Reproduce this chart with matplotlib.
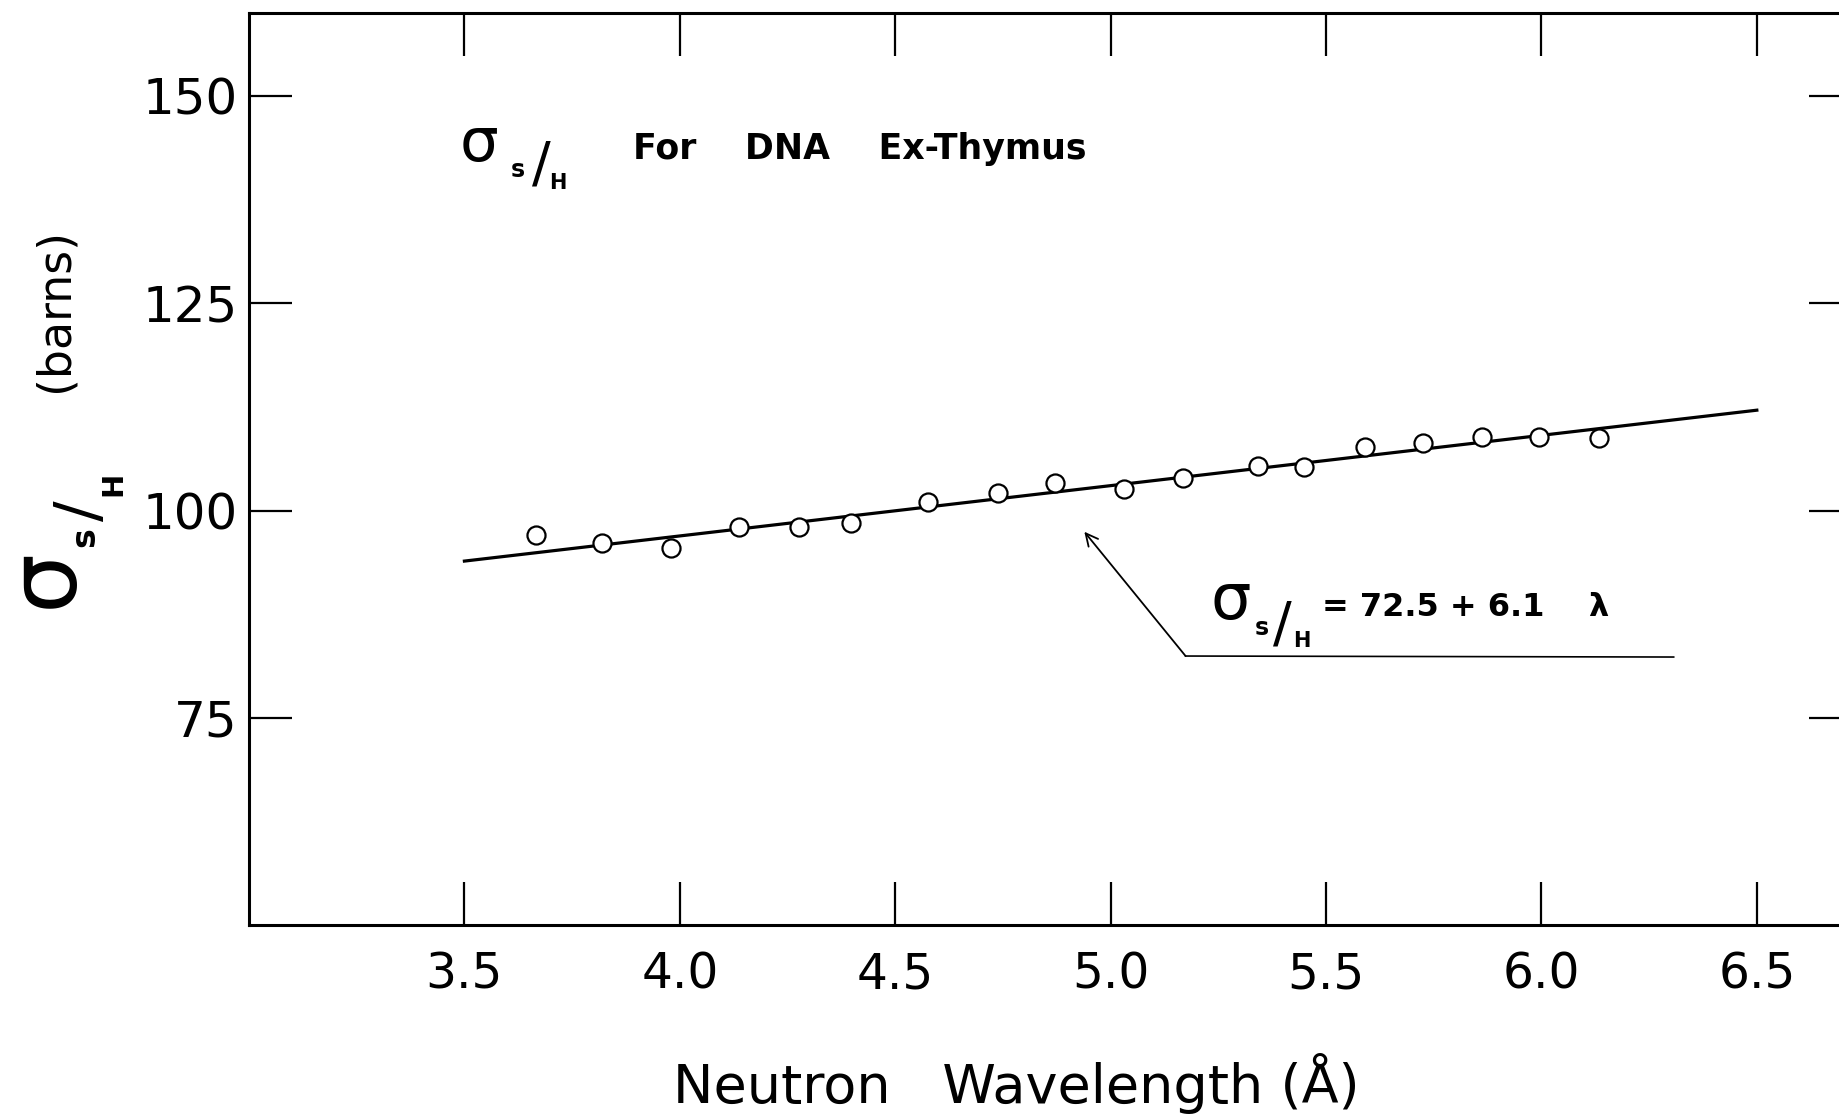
import matplotlib
matplotlib.use("Agg")
import matplotlib.pyplot as plt

# ---------------- data ----------------
wavelength = [3.666, 3.819, 3.979, 4.138, 4.277, 4.397, 4.577, 4.739, 4.870,
              5.031, 5.169, 5.341, 5.450, 5.591, 5.726, 5.863, 5.994, 6.134]
sigma_sh = [97.05, 96.12, 95.44, 97.97, 98.05, 98.46, 101.06, 102.07, 103.28,
            102.56, 103.88, 105.40, 105.28, 107.62, 108.10, 108.83, 108.90, 108.71]

fit_x = [3.5, 6.5]
fit_y = [93.9, 112.1]

pointer_tip = (4.939, 97.44)
pointer_kink = (5.174, 82.45)
pointer_end = (6.307, 82.33)

x_ticks = [3.5, 4.0, 4.5, 5.0, 5.5, 6.0, 6.5]
x_ticklabels = ["3.5", "4.0", "4.5", "5.0", "5.5", "6.0", "6.5"]
y_ticks = [75, 100, 125, 150]
y_ticklabels = ["75", "100", "125", "150"]

xlabel_text = "Neutron   Wavelength (Å)"
ylabel_unit = "(barns)"
title_text = "For    DNA    Ex-Thymus"
equation_text = "= 72.5 + 6.1    λ"

# ---------------- figure ----------------
W, H = 1840, 1115
fig = plt.figure(figsize=(W / 100, H / 100), dpi=100)
plt.rcParams['font.family'] = ['DejaVu Sans']

ax = fig.add_axes([0.13533, 0.17031, 0.87098, 0.81803])
ax.set_xlim(3.0, 6.72)
ax.set_ylim(50, 160)

for sp in ax.spines.values():
    sp.set_linewidth(2.2)
    sp.set_color("black")

ax.set_xticks(x_ticks)
ax.set_xticklabels(x_ticklabels)
ax.set_yticks(y_ticks)
ax.set_yticklabels(y_ticklabels)
ax.tick_params(axis="both", which="major", direction="in", length=31, width=1.6,
               top=True, right=True, colors="black")
ax.tick_params(axis="x", labelsize=35, pad=18)
ax.tick_params(axis="y", labelsize=36, pad=8)

# fit line and data
ax.plot(fit_x, fit_y, color="black", lw=2.3, zorder=2)
ax.plot(wavelength, sigma_sh, linestyle="none", marker="o", markersize=13,
        markerfacecolor="white", markeredgecolor="black", markeredgewidth=1.6,
        zorder=3)

# pointer from equation to line
ax.plot([pointer_kink[0], pointer_end[0]], [pointer_kink[1], pointer_end[1]],
        color="black", lw=1.2)
ax.annotate("", xy=pointer_tip, xytext=pointer_kink,
            arrowprops=dict(arrowstyle="->", lw=1.3, color="black",
                            mutation_scale=22, shrinkA=0, shrinkB=0))


def ftext(X, Y, s, **kw):
    kw.setdefault("ha", "center")
    kw.setdefault("va", "center")
    fig.text(X / W, 1 - Y / H, s, color="black", **kw)


# ----- y label (rotated) -----
ftext(46, 578, "σ", fontsize=68, rotation=90)
ftext(85, 537, "s", fontsize=24, fontweight="bold", rotation=90)
ftext(82, 511, "/", fontsize=44, rotation=90)
ftext(113, 484, "H", fontsize=21, fontweight="bold", rotation=90)
ftext(55, 310, ylabel_unit, fontsize=33, rotation=90)

# ----- title inside plot -----
ftext(479, 145, "σ", fontsize=44)
ftext(518, 170, "s", fontsize=17, fontweight="bold")
ftext(541, 166, "/", fontsize=40)
ftext(558, 183, "H", fontsize=15, fontweight="bold")
ftext(633, 149, title_text, fontsize=25, fontweight="bold", ha="left")

# ----- equation -----
ftext(1231, 601, "σ", fontsize=46)
ftext(1262, 628, "s", fontsize=17, fontweight="bold")
ftext(1282, 625, "/", fontsize=40)
ftext(1302, 641, "H", fontsize=15, fontweight="bold")
ftext(1322, 607, equation_text, fontsize=23, fontweight="bold", ha="left")

# ----- x label -----
ftext(1016, 1084, xlabel_text, fontsize=39)

fig.savefig("out.png", dpi=100, facecolor="white")
